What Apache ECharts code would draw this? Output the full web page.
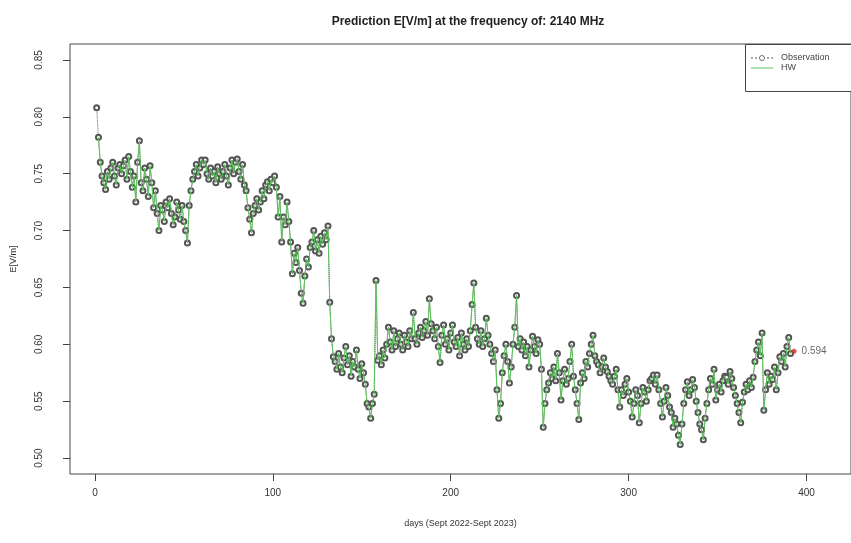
<!DOCTYPE html>
<html>
<head>
<meta charset="utf-8">
<title>Prediction E[V/m] at 2140 MHz</title>
<script src="https://cdn.jsdelivr.net/npm/echarts@6/dist/echarts.min.js"></script>
<style>
  html, body { margin: 0; padding: 0; background: #ffffff; }
  #chart { width: 851px; height: 543px; }
</style>
</head>
<body>
<div id="chart"></div>
<script>
// Daily electric-field observations E[V/m], day 1 .. 391
const observations = [
  0.808, 0.782, 0.760, 0.748, 0.742, 0.736, 0.752, 0.745, 0.755, 0.760,
  0.748, 0.740, 0.755, 0.758, 0.750, 0.757, 0.762, 0.745, 0.765, 0.752,
  0.738, 0.748, 0.725, 0.760, 0.779, 0.742, 0.735, 0.755, 0.745, 0.730,
  0.757, 0.742, 0.720, 0.735, 0.715, 0.700, 0.722, 0.718, 0.708, 0.725,
  0.720, 0.728, 0.715, 0.705, 0.712, 0.725, 0.718, 0.710, 0.722, 0.708,
  0.700, 0.689, 0.722, 0.735, 0.745, 0.752, 0.758, 0.748, 0.755, 0.762,
  0.758, 0.762, 0.750, 0.745, 0.755, 0.748, 0.752, 0.742, 0.756, 0.750,
  0.745, 0.752, 0.758, 0.748, 0.740, 0.755, 0.762, 0.750, 0.760, 0.763,
  0.752, 0.745, 0.758, 0.740, 0.735, 0.720, 0.710, 0.698, 0.715, 0.722,
  0.728, 0.718, 0.725, 0.735, 0.728, 0.740, 0.743, 0.735, 0.745, 0.742,
  0.748, 0.738, 0.712, 0.730, 0.690, 0.712, 0.705, 0.725, 0.708, 0.690,
  0.662, 0.680, 0.672, 0.685, 0.665, 0.645, 0.636, 0.660, 0.675, 0.668,
  0.685, 0.690, 0.700, 0.682, 0.692, 0.680, 0.695, 0.688, 0.698, 0.692,
  0.704, 0.637, 0.605, 0.589, 0.585, 0.578, 0.592, 0.580, 0.575, 0.588,
  0.598, 0.582, 0.590, 0.572, 0.585, 0.580, 0.595, 0.578, 0.570, 0.583,
  0.575, 0.565, 0.548, 0.545, 0.535, 0.548, 0.556, 0.656, 0.586, 0.590,
  0.582, 0.595, 0.588, 0.600, 0.615, 0.602, 0.595, 0.612, 0.598, 0.605,
  0.610, 0.600, 0.595, 0.608, 0.602, 0.598, 0.612, 0.605, 0.628, 0.605,
  0.600, 0.610, 0.615, 0.606, 0.612, 0.620, 0.608, 0.640, 0.618, 0.612,
  0.605, 0.615, 0.598, 0.584, 0.608, 0.617, 0.600, 0.605, 0.595, 0.610,
  0.617, 0.602, 0.598, 0.606, 0.590, 0.610, 0.600, 0.595, 0.605, 0.598,
  0.612, 0.635, 0.654, 0.615, 0.605, 0.600, 0.612, 0.598, 0.605, 0.623,
  0.608, 0.600, 0.592, 0.585, 0.595, 0.560, 0.535, 0.548, 0.575, 0.590,
  0.600, 0.585, 0.566, 0.580, 0.600, 0.615, 0.643, 0.598, 0.605, 0.595,
  0.602, 0.590, 0.598, 0.580, 0.595, 0.607, 0.598, 0.592, 0.604, 0.600,
  0.578, 0.527, 0.548, 0.560, 0.566, 0.575, 0.570, 0.580, 0.568, 0.592,
  0.575, 0.551, 0.568, 0.578, 0.565, 0.570, 0.585, 0.600, 0.572, 0.560,
  0.548, 0.534, 0.566, 0.575, 0.570, 0.585, 0.580, 0.592, 0.600, 0.608,
  0.590, 0.585, 0.582, 0.575, 0.580, 0.588, 0.580, 0.576, 0.572, 0.568,
  0.565, 0.572, 0.578, 0.560, 0.545, 0.560, 0.555, 0.565, 0.570, 0.558,
  0.550, 0.536, 0.548, 0.560, 0.555, 0.531, 0.548, 0.562, 0.558, 0.550,
  0.560, 0.568, 0.570, 0.573, 0.565, 0.573, 0.560, 0.548, 0.536, 0.550,
  0.562, 0.555, 0.545, 0.540, 0.527, 0.535, 0.530, 0.520, 0.512, 0.530,
  0.548, 0.560, 0.567, 0.555, 0.560, 0.569, 0.562, 0.550, 0.540, 0.530,
  0.525, 0.516, 0.535, 0.548, 0.560, 0.570, 0.565, 0.578, 0.551, 0.560,
  0.565, 0.558, 0.568, 0.572, 0.571, 0.565, 0.576, 0.570, 0.562, 0.555,
  0.548, 0.540, 0.531, 0.549, 0.558, 0.565, 0.560, 0.568, 0.562, 0.571,
  0.585, 0.595, 0.602, 0.590, 0.610, 0.542, 0.560, 0.575, 0.565, 0.572,
  0.569, 0.580, 0.560, 0.575, 0.589, 0.585, 0.592, 0.580, 0.598, 0.606,
  0.592
];

// One-step-ahead prediction
const predictionDay = [393];
const predictionValue = [0.594];

// Axis ticks
const xTicks = [0, 100, 200, 300, 400];
const yTicks = [0.50, 0.55, 0.60, 0.65, 0.70, 0.75, 0.80, 0.85];

// Legend entries
const legendNames = ['Observation', 'HW'];

const obsPoints = observations.map((v, i) => [i + 1, v]);
const hwPoints = observations.slice(1).map((v, i) => [i + 2, v]);
const predPoints = predictionDay.map((d, i) => [d, predictionValue[i]]);

const chart = echarts.init(document.getElementById('chart'), null, { renderer: 'canvas' });

const font = 'Liberation Sans, Arial, sans-serif';
const obsColor = '#555555';
const hwColor = '#5cc25c';

// Legend box drawn by hand, R style (line sample + label)
const legendGraphic = [
  {
    type: 'rect',
    shape: { x: 745.5, y: 44.5, width: 130, height: 47 },
    style: { fill: '#ffffff', stroke: '#444', lineWidth: 1 },
    z: 10
  },
  {
    type: 'line',
    shape: { x1: 751, y1: 58, x2: 773, y2: 58 },
    style: { stroke: obsColor, lineWidth: 1, lineDash: [2, 2] },
    z: 11
  },
  {
    type: 'circle',
    shape: { cx: 762, cy: 58, r: 2.5 },
    style: { fill: '#ffffff', stroke: obsColor, lineWidth: 0.8 },
    z: 12
  },
  {
    type: 'line',
    shape: { x1: 751, y1: 68, x2: 773, y2: 68 },
    style: { stroke: hwColor, lineWidth: 1 },
    z: 11
  },
  {
    type: 'text',
    x: 781, y: 58,
    style: { text: legendNames[0], fill: '#444', font: '9px ' + font, textVerticalAlign: 'middle' },
    z: 12
  },
  {
    type: 'text',
    x: 781, y: 68,
    style: { text: legendNames[1], fill: '#444', font: '9px ' + font, textVerticalAlign: 'middle' },
    z: 12
  }
];

chart.setOption({
  backgroundColor: '#ffffff',
  animation: false,
  textStyle: { fontFamily: font },
  title: {
    text: 'Prediction E[V/m] at the frequency of: 2140 MHz',
    left: 463,
    top: 11,
    textAlign: 'center',
    textStyle: { fontSize: 12, fontWeight: 'bold', color: '#222', fontFamily: font }
  },
  graphic: legendGraphic,
  grid: {
    left: 70,
    top: 44,
    width: 786,
    height: 430,
    show: true,
    borderColor: '#444',
    borderWidth: 1,
    backgroundColor: 'transparent'
  },
  xAxis: {
    type: 'value',
    min: -14,
    max: 425,
    name: 'days (Sept 2022-Sept 2023)',
    nameLocation: 'middle',
    nameGap: 45,
    nameTextStyle: { fontSize: 9, color: '#333', fontFamily: font },
    axisLine: { show: false, onZero: false },
    splitLine: { show: false },
    axisTick: {
      show: true,
      customValues: xTicks,
      length: 7,
      lineStyle: { color: '#444', width: 1 }
    },
    axisLabel: {
      customValues: xTicks,
      margin: 14,
      fontSize: 10,
      color: '#333',
      fontFamily: font
    }
  },
  yAxis: {
    type: 'value',
    min: 0.486,
    max: 0.864,
    name: 'E[V/m]',
    nameLocation: 'middle',
    nameGap: 52,
    nameTextStyle: { fontSize: 9, color: '#333', fontFamily: font },
    axisLine: { show: false, onZero: false },
    splitLine: { show: false },
    axisTick: {
      show: true,
      customValues: yTicks,
      length: 7,
      lineStyle: { color: '#444', width: 1 }
    },
    axisLabel: {
      customValues: yTicks,
      rotate: 90,
      margin: 26,
      fontSize: 10,
      color: '#333',
      fontFamily: font,
      formatter: v => v.toFixed(2)
    }
  },
  series: [
    {
      name: 'Observation',
      type: 'line',
      data: obsPoints,
      symbol: 'emptyCircle',
      symbolSize: 5,
      showSymbol: true,
      showAllSymbol: true,
      lineStyle: { color: obsColor, width: 1, type: 'dotted' },
      itemStyle: { color: obsColor, borderColor: obsColor, borderWidth: 0.8 },
      z: 2
    },
    {
      name: 'HW',
      type: 'line',
      data: hwPoints,
      symbol: 'none',
      lineStyle: { color: hwColor, width: 1 },
      itemStyle: { color: hwColor },
      z: 3
    },
    {
      name: 'Prediction',
      type: 'scatter',
      data: predPoints,
      symbol: 'circle',
      symbolSize: 5,
      itemStyle: { color: '#e0281e' },
      label: {
        show: true,
        position: 'right',
        distance: 5,
        fontSize: 10,
        color: '#444',
        fontFamily: font,
        formatter: p => p.value[1].toFixed(3)
      },
      z: 4
    }
  ]
});
</script>
</body>
</html>
